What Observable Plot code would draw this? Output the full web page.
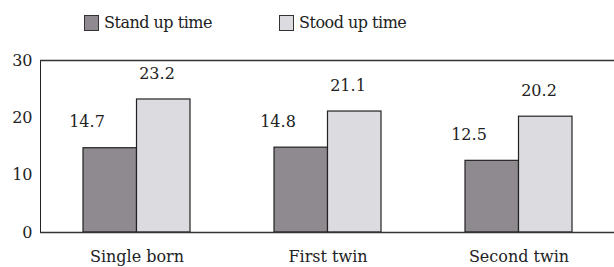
<!DOCTYPE html>
<html>
<head>
<meta charset="utf-8">
<script src="https://cdn.jsdelivr.net/npm/d3@7"></script>
<script src="https://cdn.jsdelivr.net/npm/@observablehq/plot@0.6"></script>
<style>
  body { margin: 0; background: #fff; font-family: "DejaVu Serif", serif; }
  #legend { position: relative; height: 45px; width: 614px; font-size: 16px; letter-spacing: -0.5px; color: #222; }
  .item { position: absolute; top: 13px; display: flex; align-items: center; }
  .sw { width: 13px; height: 14px; border: 1px solid #333; margin-right: 5px; box-sizing: content-box; }
  svg { display: block; }
  svg text { font-family: "DejaVu Serif", serif; }
</style>
</head>
<body>
<div id="legend"></div>
<div id="chart"></div>
<script>
const categories = ["Single born", "First twin", "Second twin"];
const seriesNames = ["Stand up time", "Stood up time"];
const standUp = [14.7, 14.8, 12.5];
const stoodUp = [23.2, 21.1, 20.2];
const yTicks = [0, 10, 20, 30];
const colors = ["#8f8a8f", "#dcdbe0"];

const dark = categories.map((c, i) => ({category: c, value: standUp[i]}));
const light = categories.map((c, i) => ({category: c, value: stoodUp[i]}));

const legend = document.getElementById("legend");
const legendX = [84, 279];
seriesNames.forEach((name, i) => {
  const item = document.createElement("div");
  item.className = "item";
  item.style.left = legendX[i] + "px";
  const sw = document.createElement("div");
  sw.className = "sw";
  sw.style.background = colors[i];
  const t = document.createElement("span");
  t.textContent = name;
  item.append(sw, t);
  legend.append(item);
});

const chart = Plot.plot({
  width: 614,
  height: 222,
  marginTop: 15,
  marginBottom: 35,
  marginLeft: 40,
  marginRight: 0,
  style: {fontFamily: "'DejaVu Serif', serif", fontSize: "16px", color: "#222", background: "#fff"},
  x: {domain: categories, paddingInner: 0.44, paddingOuter: 0.22, label: null, tickSize: 0, tickPadding: 18, fontSize: 17},
  y: {domain: [0, 30], ticks: yTicks, label: null, tickSize: 0, tickPadding: 8, line: true},
  marks: [
    Plot.barY(dark, {x: "category", y: "value", fill: colors[0], stroke: "#222", strokeWidth: 1.2, insetRight: 53.5}),
    Plot.barY(light, {x: "category", y: "value", fill: colors[1], stroke: "#222", strokeWidth: 1.2, insetLeft: 53.5}),
    Plot.ruleY([0, 30], {stroke: "#333", strokeWidth: 1.3}),
    Plot.text(dark, {x: "category", y: "value", text: d => d.value.toFixed(1), dx: -50, dy: -26, fontSize: 16, fill: "#222"}),
    Plot.text(light, {x: "category", y: "value", text: d => d.value.toFixed(1), dx: 20, dy: -26, fontSize: 16, fill: "#222"})
  ]
});
document.getElementById("chart").append(chart);
</script>
</body>
</html>
